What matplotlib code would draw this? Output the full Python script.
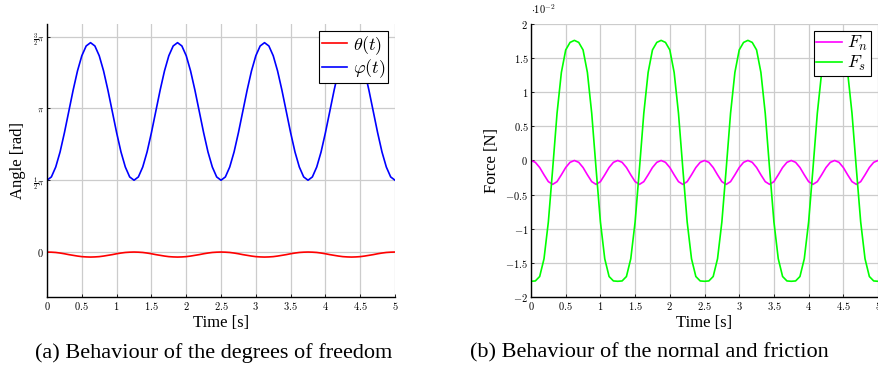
import numpy as np
import matplotlib
matplotlib.use("Agg")
import matplotlib.pyplot as plt

plt.rcParams['mathtext.fontset'] = 'cm'
plt.rcParams['font.family'] = ['Liberation Serif', 'DejaVu Serif']

# time samples [s]
t = np.linspace(0, 5, 81)

# one row per period (1.25 s)
theta_pi = [0, -0.001, -0.003, -0.007, -0.012, -0.018, -0.023, -0.028, -0.032, -0.034,
            -0.035, -0.034, -0.032, -0.028, -0.023, -0.018, -0.012, -0.007, -0.003, -0.001,
            0, -0.001, -0.003, -0.007, -0.012, -0.018, -0.023, -0.028, -0.032, -0.034,
            -0.035, -0.034, -0.032, -0.028, -0.023, -0.018, -0.012, -0.007, -0.003, -0.001,
            0, -0.001, -0.003, -0.007, -0.012, -0.018, -0.023, -0.028, -0.032, -0.034,
            -0.035, -0.034, -0.032, -0.028, -0.023, -0.018, -0.012, -0.007, -0.003, -0.001,
            0, -0.001, -0.003, -0.007, -0.012, -0.018, -0.023, -0.028, -0.032, -0.034,
            -0.035, -0.034, -0.032, -0.028, -0.023, -0.018, -0.012, -0.007, -0.003, -0.001,
            0]
phi_pi = [0.500, 0.523, 0.592, 0.697, 0.831, 0.979, 1.127, 1.261, 1.367, 1.435,
          1.458, 1.435, 1.367, 1.261, 1.127, 0.979, 0.831, 0.697, 0.592, 0.523,
          0.500, 0.523, 0.592, 0.697, 0.831, 0.979, 1.127, 1.261, 1.367, 1.435,
          1.458, 1.435, 1.367, 1.261, 1.127, 0.979, 0.831, 0.697, 0.592, 0.523,
          0.500, 0.523, 0.592, 0.697, 0.831, 0.979, 1.127, 1.261, 1.367, 1.435,
          1.458, 1.435, 1.367, 1.261, 1.127, 0.979, 0.831, 0.697, 0.592, 0.523,
          0.500, 0.523, 0.592, 0.697, 0.831, 0.979, 1.127, 1.261, 1.367, 1.435,
          1.458, 1.435, 1.367, 1.261, 1.127, 0.979, 0.831, 0.697, 0.592, 0.523,
          0.500]
# forces in units of 1e-2 N
Fn = [0, -0.027, -0.103, -0.21, -0.31, -0.35, -0.31, -0.21, -0.103, -0.027,
      0, -0.027, -0.103, -0.21, -0.31, -0.35, -0.31, -0.21, -0.103, -0.027,
      0, -0.027, -0.103, -0.21, -0.31, -0.35, -0.31, -0.21, -0.103, -0.027,
      0, -0.027, -0.103, -0.21, -0.31, -0.35, -0.31, -0.21, -0.103, -0.027,
      0, -0.027, -0.103, -0.21, -0.31, -0.35, -0.31, -0.21, -0.103, -0.027,
      0, -0.027, -0.103, -0.21, -0.31, -0.35, -0.31, -0.21, -0.103, -0.027,
      0, -0.027, -0.103, -0.21, -0.31, -0.35, -0.31, -0.21, -0.103, -0.027,
      0, -0.027, -0.103, -0.21, -0.31, -0.35, -0.31, -0.21, -0.103, -0.027,
      0]
Fs = [-1.77, -1.765, -1.70, -1.44, -0.90, -0.12, 0.69, 1.29, 1.62, 1.73,
      1.76, 1.73, 1.62, 1.29, 0.69, -0.12, -0.90, -1.44, -1.70, -1.765,
      -1.77, -1.765, -1.70, -1.44, -0.90, -0.12, 0.69, 1.29, 1.62, 1.73,
      1.76, 1.73, 1.62, 1.29, 0.69, -0.12, -0.90, -1.44, -1.70, -1.765,
      -1.77, -1.765, -1.70, -1.44, -0.90, -0.12, 0.69, 1.29, 1.62, 1.73,
      1.76, 1.73, 1.62, 1.29, 0.69, -0.12, -0.90, -1.44, -1.70, -1.765,
      -1.77, -1.765, -1.70, -1.44, -0.90, -0.12, 0.69, 1.29, 1.62, 1.73,
      1.76, 1.73, 1.62, 1.29, 0.69, -0.12, -0.90, -1.44, -1.70, -1.765,
      -1.77]

xticks = [0, 0.5, 1, 1.5, 2, 2.5, 3, 3.5, 4, 4.5, 5]
xlabels = ['$0$', '$0.5$', '$1$', '$1.5$', '$2$', '$2.5$', '$3$', '$3.5$', '$4$', '$4.5$', '$5$']
ang_ticks = [0, 0.5, 1, 1.5]
ang_labels = ['$0$', r'$\frac{1}{2}\pi$', r'$\pi$', r'$\frac{3}{2}\pi$']
f_ticks = [-2, -1.5, -1, -0.5, 0, 0.5, 1, 1.5, 2]
f_labels = ['$-2$', '$-1.5$', '$-1$', '$-0.5$', '$0$', '$0.5$', '$1$', '$1.5$', '$2$']

fig = plt.figure(figsize=(8.79, 3.79), dpi=100)
ax1 = fig.add_axes([0.0535, 0.2164, 0.3959, 0.7203])
ax2 = fig.add_axes([0.6041, 0.2164, 0.3948, 0.7203])


def style(ax):
    for s in ['top', 'right']:
        ax.spines[s].set_visible(False)
    for s in ['left', 'bottom']:
        ax.spines[s].set_linewidth(1.0)
    ax.grid(True, color='#cccccc', linewidth=0.9)
    ax.set_axisbelow(True)
    ax.tick_params(direction='in', length=2.5, width=0.6, labelsize=7.5, pad=2)
    ax.set_xlim(0, 5)
    ax.set_xticks(xticks)
    ax.set_xticklabels(xlabels)
    ax.set_xlabel('Time [s]', fontsize=12, labelpad=2)


t_pi = np.array(theta_pi) * np.pi
p_pi = np.array(phi_pi) * np.pi
ax1.plot(t, t_pi, color='#ff0000', lw=1.2, label=r'$\theta(t)$')
ax1.plot(t, p_pi, color='#0000ff', lw=1.2, label=r'$\varphi(t)$')
style(ax1)
ax1.set_ylim(-0.313 * np.pi, 1.588 * np.pi)
ax1.set_yticks([v * np.pi for v in ang_ticks])
ax1.set_yticklabels(ang_labels)
for lab in ax1.get_yticklabels()[1:]:
    lab.set_fontsize(6.5)
ax1.set_ylabel('Angle [rad]', fontsize=12, labelpad=5)
leg1 = ax1.legend(loc='upper right', fontsize=13, handlelength=1.4, handletextpad=0.3,
                  borderpad=0.15, labelspacing=0.05, fancybox=False, framealpha=1,
                  edgecolor='black', borderaxespad=0.4)
leg1.get_frame().set_linewidth(0.8)

ax2.plot(t, Fn, color='#ff00ff', lw=1.2, label='$F_n$')
ax2.plot(t, Fs, color='#00ff00', lw=1.2, label='$F_s$')
style(ax2)
ax2.set_ylim(-2, 2)
ax2.set_yticks(f_ticks)
ax2.set_yticklabels(f_labels)
ax2.set_ylabel('Force [N]', fontsize=12, labelpad=4)
ax2.text(0.0, 1.03, r'$\cdot 10^{-2}$', transform=ax2.transAxes, fontsize=7.5,
         ha='left', va='bottom')
leg2 = ax2.legend(loc='upper right', fontsize=13, handlelength=1.4, handletextpad=0.3,
                  borderpad=0.15, labelspacing=0.05, fancybox=False, framealpha=1,
                  edgecolor='black', borderaxespad=0.4)
leg2.get_frame().set_linewidth(0.8)

fig.text(35 / 879, 0.068, '(a) Behaviour of the degrees of freedom', fontsize=16,
         ha='left', va='center')
fig.text(470 / 879, 0.068, '(b) Behaviour of the normal and friction', fontsize=16,
         ha='left', va='center')

fig.savefig('out.png', dpi=100)
